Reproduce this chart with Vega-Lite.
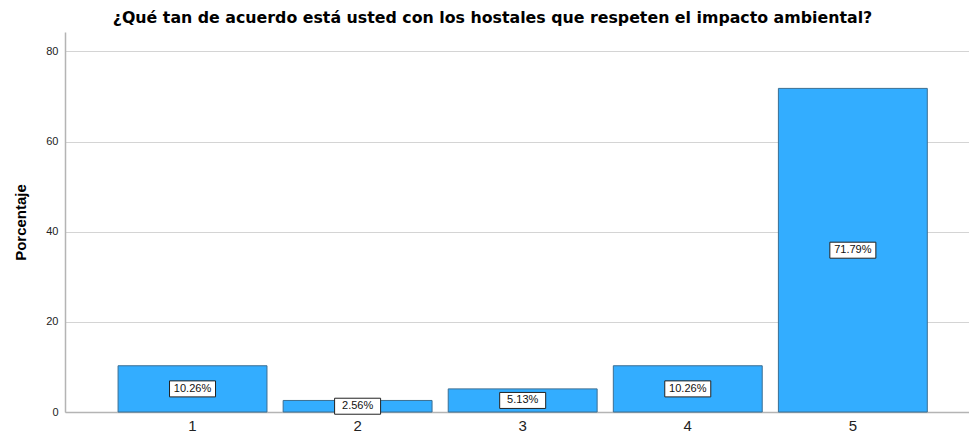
{
  "$schema": "https://vega.github.io/schema/vega-lite/v6.json",
  "autosize": {"type": "none"},
  "padding": {"left": 65, "top": 32, "right": 0, "bottom": 22},
  "width": 904,
  "height": 380,
  "background": "white",
  "title": {
    "text": "¿Qué tan de acuerdo está usted con los hostales que respeten el impacto ambiental?",
    "font": "DejaVu Sans",
    "fontSize": 15.8,
    "fontWeight": "bold",
    "color": "#000000",
    "anchor": "middle",
    "dx": -24.5,
    "offset": 5
  },
  "config": {
    "view": {"stroke": null},
    "font": "Liberation Sans"
  },
  "data": {
    "values": [
      {"cat": "1", "pct": 10.26, "label": "10.26%"},
      {"cat": "2", "pct": 2.56, "label": "2.56%"},
      {"cat": "3", "pct": 5.13, "label": "5.13%"},
      {"cat": "4", "pct": 10.26, "label": "10.26%"},
      {"cat": "5", "pct": 71.79, "label": "71.79%"}
    ]
  },
  "transform": [{"calculate": "datum.pct / 2", "as": "mid"}],
  "encoding": {
    "x": {
      "field": "cat",
      "type": "nominal",
      "scale": {"paddingInner": 0.098, "paddingOuter": 0.287, "align": 0.56},
      "axis": {
        "title": null,
        "labelAngle": 0,
        "labelFontSize": 15,
        "labelColor": "#222222",
        "labelPadding": 6,
        "ticks": false,
        "domainColor": "#b4b4b4",
        "domainWidth": 1.5,
        "grid": false
      }
    }
  },
  "layer": [
    {
      "mark": {"type": "bar", "fill": "#33adff", "stroke": "#3b6e92", "strokeWidth": 1},
      "encoding": {
        "y": {
          "field": "pct",
          "type": "quantitative",
          "scale": {"domain": [0, 84.3], "nice": false},
          "axis": {
            "title": "Porcentaje",
            "titleFontSize": 15,
            "titleFontWeight": "bold",
            "titleColor": "#000000",
            "titlePadding": 17,
            "values": [0, 20, 40, 60, 80],
            "labelFontSize": 11,
            "labelColor": "#222222",
            "labelPadding": 7,
            "ticks": false,
            "domainColor": "#b4b4b4",
            "domainWidth": 1.5,
            "gridColor": "#d4d4d4",
            "gridWidth": 1.2
          }
        }
      }
    },
    {
      "mark": {"type": "rect", "width": 46, "height": 16, "fill": "white", "stroke": "#222222", "strokeWidth": 1},
      "encoding": {
        "y": {"field": "mid", "type": "quantitative"}
      }
    },
    {
      "mark": {"type": "text", "fontSize": 11, "color": "#111111", "baseline": "middle", "align": "center"},
      "encoding": {
        "y": {"field": "mid", "type": "quantitative"},
        "text": {"field": "label"}
      }
    }
  ]
}
